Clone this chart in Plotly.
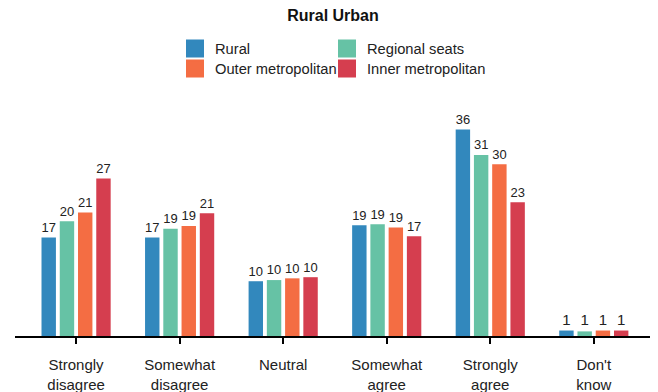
import plotly.graph_objects as go

categories = ["Strongly<br>disagree", "Somewhat<br>disagree", "Neutral", "Somewhat<br>agree", "Strongly<br>agree", "Don't<br>know"]
rural = [17.1, 17.1, 9.5, 19.2, 35.8, 0.95]
regional = [19.9, 18.6, 9.7, 19.4, 31.4, 0.8]
outer = [21.4, 19.1, 10.0, 18.8, 29.8, 0.95]
inner = [27.3, 21.3, 10.2, 17.3, 23.2, 0.95]

series_names = ["Rural", "Regional seats", "Outer metropolitan", "Inner metropolitan"]
series_values = [rural, regional, outer, inner]
series_colors = ["#3288bd", "#66c2a5", "#f46d43", "#d53e4f"]
legend_ids = ["legend", "legend2", "legend3", "legend4"]

FONT = "Liberation Sans, Arial, sans-serif"

fig = go.Figure()
for name, vals, color in zip(series_names, series_values, series_colors):
    fig.add_trace(go.Bar(
        x=list(range(len(categories))), y=vals, name=name,
        marker=dict(color=color, line=dict(width=0)),
        text=[f"{v:.0f}" for v in vals], textposition="outside",
        textfont=dict(size=15, color="#222", family=FONT),
        cliponaxis=False, showlegend=False,
    ))

# legend-only entries (square swatches)
for name, color, lg in zip(series_names, series_colors, legend_ids):
    fig.add_trace(go.Scatter(
        x=[None], y=[None], mode="markers", name=name, legend=lg,
        marker=dict(symbol="square", size=16, color=color, line=dict(width=2, color=color)),
        showlegend=True, hoverinfo="skip",
    ))

leg_common = dict(orientation="h", xanchor="left", yanchor="middle",
                  bgcolor="rgba(0,0,0,0)", font=dict(size=14.7, color="#222", family=FONT),
                  itemclick=False, itemdoubleclick=False)

fig.update_layout(
    width=650, height=384,
    margin=dict(l=7, r=0, t=87, b=56),
    paper_bgcolor="white", plot_bgcolor="white",
    barmode="group", bargap=0.295, bargroupgap=0.21,
    font=dict(family=FONT, size=15, color="#222"),
    title=dict(text="<b>Rural Urban</b>", x=0.5, xanchor="center", y=0.982, yanchor="middle",
               font=dict(size=16, color="#111", family=FONT)),
    showlegend=True,
    legend=dict(x=0.2488, y=1.191, **leg_common),
    legend2=dict(x=0.4852, y=1.191, **leg_common),
    legend3=dict(x=0.2488, y=1.108, **leg_common),
    legend4=dict(x=0.4852, y=1.108, **leg_common),
    xaxis=dict(
        tickmode="array", tickvals=list(range(len(categories))), ticktext=categories,
        range=[-0.59, 5.62], showline=True, linecolor="black", linewidth=2,
        ticks="outside", ticklen=6, tickwidth=1.5, tickcolor="black",
        ticklabelstandoff=8,
        showgrid=False, zeroline=False, tickfont=dict(size=15, color="#222"),
    ),
    yaxis=dict(range=[0, 41.8], visible=False, showgrid=False, zeroline=False),
)

fig.write_html("out.html")
